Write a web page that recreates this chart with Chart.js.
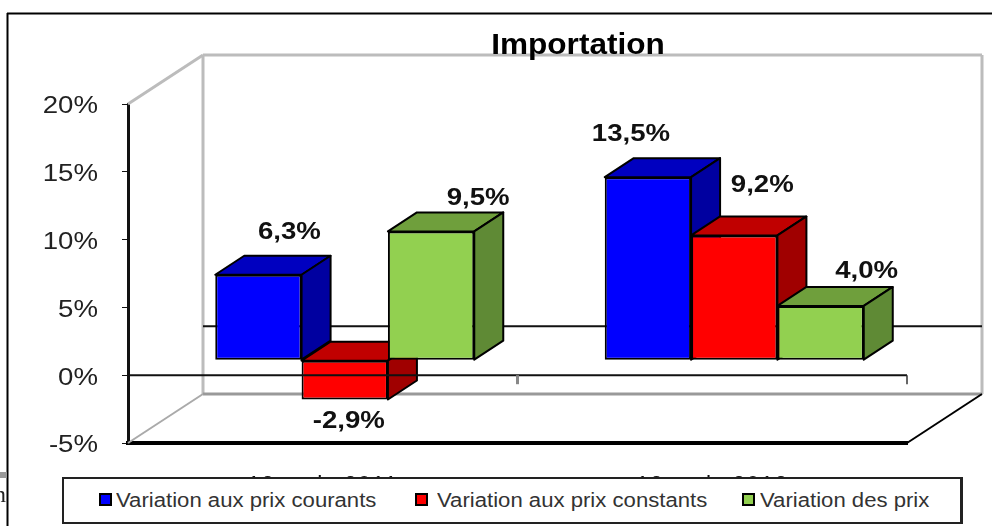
<!DOCTYPE html>
<html>
<head>
<meta charset="utf-8">
<title>Importation</title>
<script src="https://cdn.jsdelivr.net/npm/chart.js@4"></script>
<style>
    html, body { margin: 0; padding: 0; background: #fff; }
    #wrap { position: relative; width: 992px; height: 526px; overflow: hidden; }
    #chart { display: block; }
    #legend {
        position: absolute; left: 62px; top: 477px; width: 896px; height: 43px;
        background: #fff; border: 2px solid #222; border-right-width: 3px;
        font: 19.5px "Liberation Sans", sans-serif; color: #333;
    }
    #legend span.item { position: absolute; top: 10px; white-space: nowrap; transform: scaleX(1.135); transform-origin: left center; }
    #legend span.box { position: absolute; top: 14px; width: 9px; height: 9px; border: 2px solid #000; }
</style>
</head>
<body>
<div id="wrap">
    <canvas id="chart" width="992" height="526"></canvas>
    <div id="legend"></div>
</div>
<script>
const categories = ['12 mois 2011', '12 mois 2012'];
const seriesNames = ['Variation aux prix courants', 'Variation aux prix constants', 'Variation des prix'];
const prixCourants = [6.3, 13.5];
const prixConstants = [-2.9, 9.2];
const variationPrix = [9.5, 4.0];
const tickLabels = ['-5%', '0%', '5%', '10%', '15%', '20%'];

// front face, top face, side face
const blues = ['#0000ff', '#0000c0', '#0000a0'];
const reds = ['#ff0000', '#c00000', '#a00000'];
const greens = ['#92d050', '#6f9f3c', '#5f8a35'];

// the labels were moved by hand in the original, so each one gets its own nudge from the bar
const labelNudge = [
    [[31, -42], [-17, -42]],
    [[4, 22], [28, -50]],
    [[47, -33], [46, -34]]
];
const legendX = [[35, 52], [351, 373], [678, 696]];

const FONT = '"Liberation Sans", sans-serif';
const wallDepth = [75, -49];
const barShift = [22, -15];
const barDepth = [29, -19];

function line(ctx, x1, y1, x2, y2, color, width) {
    ctx.strokeStyle = color;
    ctx.lineWidth = width;
    ctx.beginPath();
    ctx.moveTo(x1, y1);
    ctx.lineTo(x2, y2);
    ctx.stroke();
}

function face(ctx, pts, color) {
    ctx.fillStyle = color;
    ctx.strokeStyle = '#000';
    ctx.lineWidth = 2;
    ctx.lineJoin = 'round';
    ctx.beginPath();
    pts.forEach((p, i) => i ? ctx.lineTo(p[0], p[1]) : ctx.moveTo(p[0], p[1]));
    ctx.closePath();
    ctx.fill();
    ctx.stroke();
}

// text in the picture is wider than the font, so squeeze it out sideways
function wideText(ctx, text, x, y, stretch) {
    ctx.save();
    ctx.translate(x, y);
    ctx.scale(stretch, 1);
    ctx.fillText(text, 0, 0);
    ctx.restore();
}

const fakeThreeD = {
    id: 'fakeThreeD',
    beforeDraw(chart) {
        const ctx = chart.ctx;
        ctx.letterSpacing = '1.2px';
        ctx.save();
        // page frame and the scrap of the page left of it
        line(ctx, 7.5, 13, 7.5, 526, '#000', 2);
        line(ctx, 7, 13.5, 992, 13.5, '#000', 2);
        ctx.fillStyle = '#999';
        ctx.fillRect(0, 472, 7, 6);
        ctx.fillStyle = '#222';
        ctx.font = '24px "Liberation Serif", serif';
        ctx.fillText('n', -6, 502);
        ctx.restore();
    },
    beforeDatasetsDraw(chart) {
        const ctx = chart.ctx;
        const a = chart.chartArea;
        const y = chart.scales.y;
        const dx = wallDepth[0], dy = wallDepth[1];
        const gray = '#bcbcbc';
        ctx.save();
        line(ctx, a.left, a.top, a.left + dx, a.top + dy, gray, 3);
        line(ctx, a.left + dx, a.top + dy, a.right + dx, a.top + dy, gray, 3);
        line(ctx, a.left + dx, a.top + dy, a.left + dx, a.bottom + dy, gray, 3);
        line(ctx, a.right + dx, a.top + dy, a.right + dx, a.bottom + dy, gray, 3);
        line(ctx, a.left + dx, a.bottom + dy, a.right + dx, a.bottom + dy, '#999', 3);
        line(ctx, a.left, a.bottom, a.left + dx, a.bottom + dy, '#aaa', 2);
        line(ctx, a.right, a.bottom, a.right + dx, a.bottom + dy, '#000', 2);
        line(ctx, a.left + dx, y.getPixelForValue(0) + dy, a.right + dx, y.getPixelForValue(0) + dy, '#111', 2);
        ctx.restore();
    },
    // chart.js paints the last dataset first, here the left bar has to go down first
    beforeDatasetDraw() {
        return false;
    },
    afterDatasetsDraw(chart) {
        const ctx = chart.ctx;
        const a = chart.chartArea;
        const zero = chart.scales.y.getPixelForValue(0);
        ctx.save();
        ctx.translate(barShift[0], barShift[1]);
        chart.data.datasets.forEach((ds, i) => {
            const meta = chart.getDatasetMeta(i);
            meta.data.forEach(bar => {
                const top = Math.min(bar.y, bar.base);
                const bottom = Math.max(bar.y, bar.base);
                const l = bar.x - bar.width / 2;
                const r = bar.x + bar.width / 2;
                const dx = barDepth[0], dy = barDepth[1];
                face(ctx, [[l, top], [r, top], [r + dx, top + dy], [l + dx, top + dy]], ds.faces[1]);
                face(ctx, [[r, top], [r + dx, top + dy], [r + dx, bottom + dy], [r, bottom]], ds.faces[2]);
            });
            meta.controller.draw();
        });
        ctx.restore();
        ctx.save();
        line(ctx, a.left, zero, a.right, zero, '#111', 2);
        line(ctx, a.right, zero, a.right, zero + 9, '#333', 1.5);
        line(ctx, (a.left + a.right) / 2, zero, (a.left + a.right) / 2, zero + 9, '#888', 3);
        ctx.restore();
    },
    afterDraw(chart) {
        const ctx = chart.ctx;
        ctx.save();
        ctx.letterSpacing = '0px';
        // y tick labels
        const y = chart.scales.y;
        ctx.fillStyle = '#222';
        ctx.font = '23px ' + FONT;
        ctx.textAlign = 'right';
        ctx.textBaseline = 'middle';
        y.ticks.forEach((t, i) => wideText(ctx, t.label, 98, y.getPixelForTick(i) + 3, 1.2));
        // value labels
        ctx.fillStyle = '#111';
        ctx.textAlign = 'center';
        ctx.font = 'bold 23px ' + FONT;
        chart.data.datasets.forEach((ds, i) => {
            chart.getDatasetMeta(i).data.forEach((bar, j) => {
                const edge = ds.data[j] < 0 ? Math.max(bar.y, bar.base) : Math.min(bar.y, bar.base);
                const text = ds.data[j].toFixed(1).replace('.', ',') + '%';
                wideText(ctx, text, bar.x + barShift[0] + labelNudge[i][j][0], edge + barShift[1] + labelNudge[i][j][1], 1.2);
            });
        });
        ctx.fillStyle = '#000';
        ctx.font = 'bold 29px ' + FONT;
        ctx.textBaseline = 'alphabetic';
        wideText(ctx, 'Importation', 578, 54, 1.0875);
        ctx.restore();
    }
};

new Chart(document.getElementById('chart'), {
    type: 'bar',
    data: {
        labels: categories,
        datasets: [
            { label: seriesNames[0], data: prixCourants, backgroundColor: blues[0], faces: blues },
            { label: seriesNames[1], data: prixConstants, backgroundColor: reds[0], faces: reds },
            { label: seriesNames[2], data: variationPrix, backgroundColor: greens[0], faces: greens }
        ]
    },
    options: {
        responsive: false,
        animation: false,
        layout: { padding: { left: 0, right: 85, top: 104, bottom: 0 } },
        datasets: {
            bar: {
                barPercentage: 1,
                categoryPercentage: 0.665,
                borderColor: '#000',
                borderWidth: 2,
                borderSkipped: false
            }
        },
        plugins: {
            legend: { display: false },
            title: { display: false },
            tooltip: { enabled: false }
        },
        scales: {
            x: {
                afterFit: scale => { scale.height = 83; },
                grid: { display: false, drawTicks: false },
                border: { color: '#000', width: 4 },
                ticks: { padding: 30, color: '#111', font: { family: FONT, size: 23 }, maxRotation: 0 }
            },
            y: {
                min: -5,
                max: 20,
                afterFit: scale => { scale.width = 128; },
                grid: { drawOnChartArea: false, color: '#111', tickLength: 6 },
                border: { color: '#111', width: 3 },
                ticks: {
                    stepSize: 5,
                    color: 'rgba(0,0,0,0)', // drawn stretched in afterDraw
                    font: { family: FONT, size: 23 },
                    callback: (v, i) => tickLabels[i]
                }
            }
        }
    },
    plugins: [fakeThreeD]
});

// legend box sits on top of the axis labels, same as in the original
const legendBox = document.getElementById('legend');
[blues, reds, greens].forEach((c, i) => {
    const box = document.createElement('span');
    box.className = 'box';
    box.style.left = legendX[i][0] + 'px';
    box.style.background = c[0];
    legendBox.appendChild(box);
    const item = document.createElement('span');
    item.className = 'item';
    item.style.left = legendX[i][1] + 'px';
    item.textContent = seriesNames[i];
    legendBox.appendChild(item);
});
</script>
</body>
</html>
